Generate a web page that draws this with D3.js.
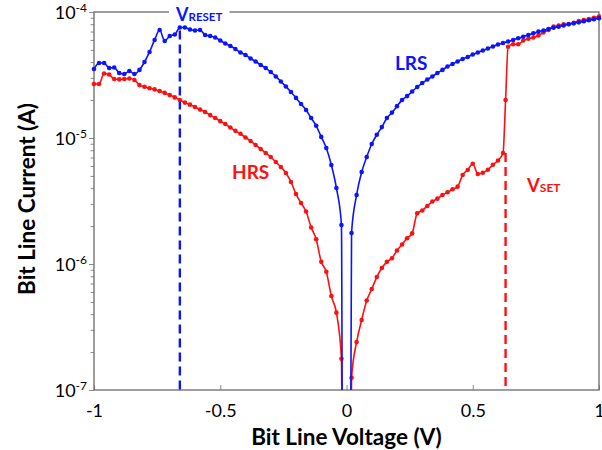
<!DOCTYPE html>
<html>
<head>
<meta charset="utf-8">
<script src="https://cdn.jsdelivr.net/npm/d3@7"></script>
<style>
  html,body{margin:0;padding:0;background:#fff;}
  svg{display:block;}
  text{font-family:Lato,"Open Sans",sans-serif;}
</style>
</head>
<body>
<svg id="chart" width="602" height="450"></svg>
<script>
// ---------- data ----------
const lrsV = [
  -1.00,-0.98,-0.96,-0.94,-0.92,-0.90,-0.88,-0.86,-0.84,-0.82,
  -0.80,-0.78,-0.76,-0.74,-0.72,-0.70,-0.68,-0.66,-0.64,-0.62,
  -0.60,-0.58,-0.56,-0.54,-0.52,-0.50,-0.48,-0.46,-0.44,-0.42,
  -0.40,-0.38,-0.36,-0.34,-0.32,-0.30,-0.28,-0.26,-0.24,-0.22,
  -0.20,-0.18,-0.16,-0.14,-0.12,-0.10,-0.08,-0.06,-0.04,-0.02,
  -0.015,0.015,
  0.02,0.04,0.06,0.08,0.10,0.12,0.14,0.16,0.18,0.20,
  0.22,0.24,0.26,0.28,0.30,0.32,0.34,0.36,0.38,0.40,
  0.42,0.44,0.46,0.48,0.50,0.52,0.54,0.56,0.58,0.60,
  0.62,0.64,0.66,0.68,0.70,0.72,0.74,0.76,0.78,0.80,
  0.82,0.84,0.86,0.88,0.90,0.92,0.94,0.96,0.98,1.00
];
const lrsI = [
  3.53e-5,3.94e-5,3.94e-5,3.59e-5,3.63e-5,3.28e-5,3.22e-5,3.40e-5,3.22e-5,3.47e-5,
  4.01e-5,4.82e-5,6.00e-5,7.20e-5,5.89e-5,6.45e-5,6.63e-5,7.53e-5,7.53e-5,7.26e-5,
  7.13e-5,7.20e-5,6.57e-5,6.45e-5,6.28e-5,5.94e-5,5.62e-5,5.37e-5,5.09e-5,4.77e-5,
  4.56e-5,4.28e-5,4.05e-5,3.80e-5,3.59e-5,3.34e-5,3.08e-5,2.81e-5,2.56e-5,2.32e-5,
  2.08e-5,1.86e-5,1.67e-5,1.44e-5,1.25e-5,1.02e-5,8.33e-6,6.11e-6,4.01e-6,2.04e-6,
  1e-8,1e-8,
  1.76e-6,3.53e-6,5.37e-6,7.07e-6,8.96e-6,1.06e-5,1.22e-5,1.44e-5,1.59e-5,1.79e-5,
  2.00e-5,2.15e-5,2.34e-5,2.54e-5,2.73e-5,2.91e-5,3.08e-5,3.28e-5,3.47e-5,3.69e-5,
  3.87e-5,4.05e-5,4.24e-5,4.39e-5,4.60e-5,4.77e-5,4.95e-5,5.13e-5,5.32e-5,5.52e-5,
  5.68e-5,5.83e-5,6.00e-5,6.19e-5,6.37e-5,6.57e-5,6.78e-5,6.98e-5,7.13e-5,7.33e-5,
  7.50e-5,7.64e-5,7.82e-5,7.99e-5,8.13e-5,8.28e-5,8.44e-5,8.59e-5,8.75e-5,8.91e-5
];
const hrsV = [
  -1.00,-0.98,-0.96,-0.94,-0.92,-0.90,-0.88,-0.86,-0.84,-0.82,
  -0.80,-0.78,-0.76,-0.74,-0.72,-0.70,-0.68,-0.66,-0.64,-0.62,
  -0.60,-0.58,-0.56,-0.54,-0.52,-0.50,-0.48,-0.46,-0.44,-0.42,
  -0.40,-0.38,-0.36,-0.34,-0.32,-0.30,-0.28,-0.26,-0.24,-0.22,
  -0.20,-0.18,-0.16,-0.14,-0.12,-0.10,-0.08,-0.06,-0.04,-0.02,
  -0.015,0.015,
  0.02,0.04,0.06,0.08,0.10,0.12,0.14,0.16,0.18,0.20,
  0.22,0.24,0.26,0.28,0.30,0.32,0.34,0.36,0.38,0.40,
  0.42,0.44,0.46,0.48,0.50,0.52,0.54,0.56,0.58,0.60,
  0.62,0.63,0.64,0.66,0.68,0.70,0.72,0.74,0.76,0.78,0.80,
  0.82,0.84,0.86,0.88,0.90,0.92,0.94,0.96,0.98,1.00
];
const hrsI = [
  2.68e-5,2.68e-5,3.25e-5,3.19e-5,2.94e-5,2.92e-5,2.94e-5,2.97e-5,2.89e-5,2.63e-5,
  2.55e-5,2.48e-5,2.43e-5,2.36e-5,2.28e-5,2.19e-5,2.10e-5,2.00e-5,1.91e-5,1.84e-5,
  1.76e-5,1.68e-5,1.61e-5,1.52e-5,1.44e-5,1.36e-5,1.29e-5,1.21e-5,1.14e-5,1.08e-5,
  1.01e-5,9.47e-6,8.80e-6,8.18e-6,7.60e-6,7.07e-6,6.45e-6,5.89e-6,5.28e-6,4.48e-6,
  3.59e-6,3.05e-6,2.61e-6,1.95e-6,1.57e-6,1.04e-6,8.69e-7,5.57e-7,4.11e-7,1.77e-7,
  1e-8,1e-8,
  1.25e-7,2.40e-7,3.59e-7,5.13e-7,6.33e-7,7.88e-7,9.30e-7,1.04e-6,1.11e-6,1.28e-6,
  1.43e-6,1.60e-6,1.75e-6,2.53e-6,2.66e-6,2.89e-6,3.13e-6,3.30e-6,3.53e-6,3.71e-6,
  3.92e-6,4.11e-6,5.09e-6,5.57e-6,6.25e-6,5.18e-6,5.30e-6,5.60e-6,6.14e-6,6.63e-6,
  7.60e-6,2.00e-5,5.30e-5,5.54e-5,5.54e-5,5.94e-5,6.14e-5,6.28e-5,6.51e-5,6.88e-5,7.20e-5,
  7.67e-5,7.79e-5,7.99e-5,8.03e-5,8.22e-5,8.48e-5,8.64e-5,8.80e-5,9.01e-5,9.21e-5
];
const xTicks = [-1, -0.5, 0, 0.5, 1];
const xTickLabels = ["-1", "-0.5", "0", "0.5", "1"];
const yTicks = [1e-7, 1e-6, 1e-5, 1e-4];
const yTickExps = ["-7", "-6", "-5", "-4"];
const vReset = -0.66, iReset = 7.53e-5;
const vSet = 0.63, iSet = 7.60e-6;

// ---------- layout ----------
const svg = d3.select("#chart");
const L = 94, R = 599, T = 12, B = 390;
const x = d3.scaleLinear().domain([-1, 1]).range([L, R]);
const y = d3.scaleLog().domain([1e-7, 1e-4]).range([B, T]);
const axisColor = "#6a6a6a";
const tickColor = "#8c8c8c";
const BLUE = "#0a14ff", RED = "#ff1010";

svg.append("defs").append("clipPath").attr("id", "plotClip")
  .append("rect").attr("x", L - 5).attr("y", T).attr("width", R - L + 10).attr("height", B - T);

// minor y ticks
const minor = y.ticks().filter(v => Math.abs(Math.log10(v) - Math.round(Math.log10(v))) > 1e-6);
svg.append("g").attr("transform", `translate(${L},0)`)
  .call(d3.axisLeft(y).tickValues(minor).tickSize(3.5).tickFormat(""))
  .call(g => g.select(".domain").remove())
  .call(g => g.selectAll("line").attr("stroke", tickColor));

// major y ticks + labels
const yAx = svg.append("g").attr("transform", `translate(${L},0)`)
  .call(d3.axisLeft(y).tickValues(yTicks).tickSize(5).tickPadding(6).tickFormat(() => ""))
  .call(g => g.select(".domain").remove())
  .call(g => g.selectAll("line").attr("stroke", tickColor));
yAx.selectAll(".tick text").each(function(d) {
  const i = yTicks.indexOf(d);
  const t = d3.select(this).attr("fill", "#000").attr("font-size", 18)
    .attr("dy", "0.35em").attr("x", -7);
  t.text(null);
  t.append("tspan").text("10");
  t.append("tspan").attr("font-size", 12).attr("dy", "-0.55em").text(yTickExps[i]);
});

// x ticks (inward) + labels
svg.append("g").attr("transform", `translate(0,${B})`)
  .call(d3.axisBottom(x).tickValues(xTicks).tickSize(-5).tickPadding(14)
    .tickFormat((d, i) => xTickLabels[i]))
  .call(g => g.select(".domain").remove())
  .call(g => g.selectAll("line").attr("stroke", tickColor))
  .call(g => g.selectAll("text").attr("fill", "#000").attr("font-size", 18));

// frame
svg.append("rect").attr("x", L).attr("y", T).attr("width", R - L).attr("height", B - T)
  .attr("fill", "none").attr("stroke", axisColor).attr("stroke-width", 1.3);

// dashed markers
svg.append("line")
  .attr("x1", x(vReset)).attr("x2", x(vReset)).attr("y1", y(iReset) + 3).attr("y2", y(1e-7))
  .attr("stroke", BLUE).attr("stroke-width", 2.4).attr("stroke-dasharray", "9,5");
svg.append("line")
  .attr("x1", x(vSet)).attr("x2", x(vSet)).attr("y1", y(iSet)).attr("y2", y(1e-7))
  .attr("stroke", RED).attr("stroke-width", 2.4).attr("stroke-dasharray", "9,5");

// curves
const series = [
  { v: hrsV, i: hrsI, color: RED },
  { v: lrsV, i: lrsI, color: BLUE }
];
const line = d3.line().x(d => x(d[0])).y(d => y(d[1])).curve(d3.curveMonotoneX);
const plot = svg.append("g");
series.forEach(s => {
  const pts = s.v.map((v, k) => [v, s.i[k]]);
  plot.append("path").attr("d", line(pts)).attr("clip-path", "url(#plotClip)")
    .attr("fill", "none").attr("stroke", s.color).attr("stroke-width", 1.6);
  plot.append("g").selectAll("circle").data(pts.filter(p => p[1] >= 1e-7)).join("circle")
    .attr("cx", d => x(d[0])).attr("cy", d => y(d[1])).attr("r", 2.3).attr("fill", s.color);
});

// annotations
const patch = svg.append("rect").attr("fill", "#fff");
const vr = svg.append("text").attr("x", 176).attr("y", 21).attr("fill", BLUE).attr("font-weight", 700);
vr.append("tspan").attr("font-size", 18).text("V");
vr.append("tspan").attr("font-size", 11.5).text("RESET");
const bb = vr.node().getBBox();
patch.attr("x", bb.x - 6).attr("y", 2).attr("width", bb.width + 13).attr("height", 20);

const vs = svg.append("text").attr("x", 527).attr("y", 192).attr("fill", RED).attr("font-weight", 700);
vs.append("tspan").attr("font-size", 18.5).text("V");
vs.append("tspan").attr("font-size", 12).text("SET");

svg.append("text").attr("x", 395).attr("y", 70).attr("fill", BLUE).attr("font-weight", 700)
  .attr("font-size", 19).text("LRS");
svg.append("text").attr("x", 232).attr("y", 179).attr("fill", RED).attr("font-weight", 700)
  .attr("font-size", 19).text("HRS");

// axis titles
svg.append("text").attr("x", (L + R) / 2).attr("y", 445).attr("text-anchor", "middle")
  .attr("font-weight", 700).attr("font-size", 22.5).attr("fill", "#000").text("Bit Line Voltage (V)");
svg.append("text").attr("transform", `translate(35,${(T + B) / 2 - 2}) rotate(-90)`)
  .attr("text-anchor", "middle").attr("font-weight", 700).attr("font-size", 22.5).attr("fill", "#000")
  .text("Bit Line Current (A)");
</script>
</body>
</html>
